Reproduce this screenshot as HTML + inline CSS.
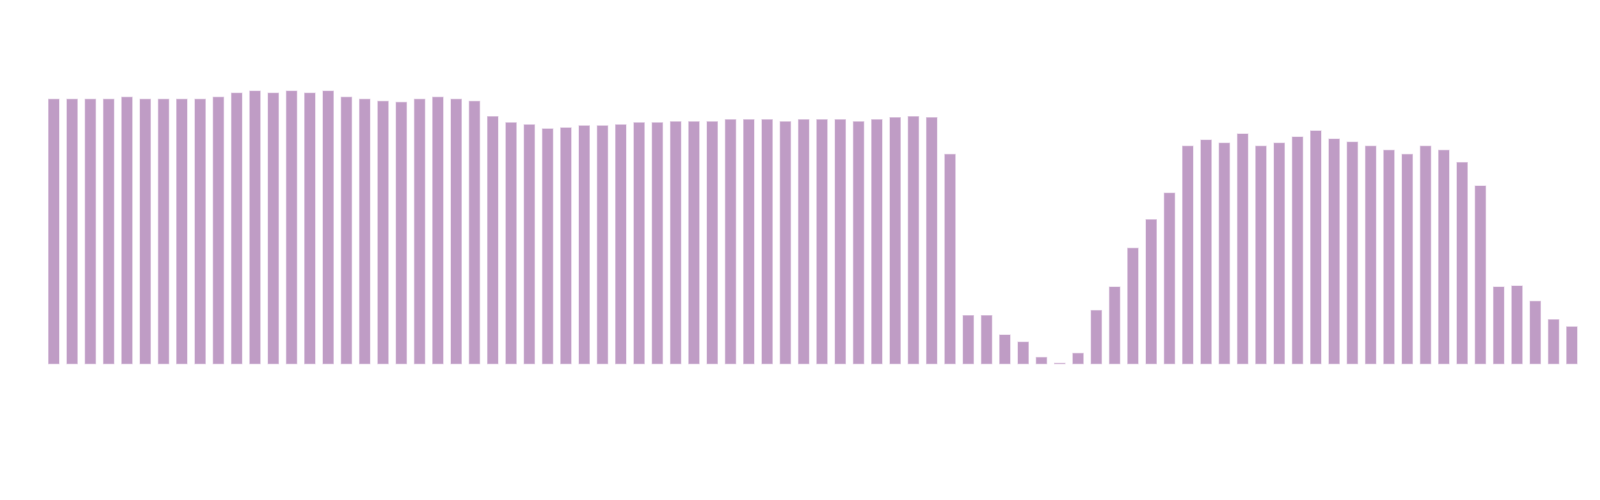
<!DOCTYPE html>
<html><head><meta charset="utf-8"><style>html,body{margin:0;padding:0;background:#fff;width:1600px;height:500px;overflow:hidden}</style></head>
<body>
<svg id="c" width="1600" height="500" xmlns="http://www.w3.org/2000/svg"></svg>
<script>
var t=[97,97,97,97,95,97,97,97,97,95,91,89,91,89,91,89,95,97,99,100,97,95,97,99,114,120,122,126,125,123,123,122,120,120,119,119,119,117,117,117,119,117,117,117,119,117,115,114,115,151,309,309,328,335,350,357,346,304,281,243,215,189,143,137,140,131,143,140,134,128,136,139,143,147,151,143,147,159,182,281,280,295,313,320];
var s='';
for(var i=0;i<t.length;i++){
  var x=48.3+i*18.29, y=t[i]*1.0204, h=364-y;
  if(h<1)h=1,y=363;
  s+='<rect x="'+x.toFixed(2)+'" y="'+y.toFixed(2)+'" width="11" height="'+h.toFixed(2)+'" fill="#bf9cc5" stroke="#e6d6e8" stroke-width="0.6"/>';
}
document.getElementById('c').innerHTML=s;
</script>
</body></html>
